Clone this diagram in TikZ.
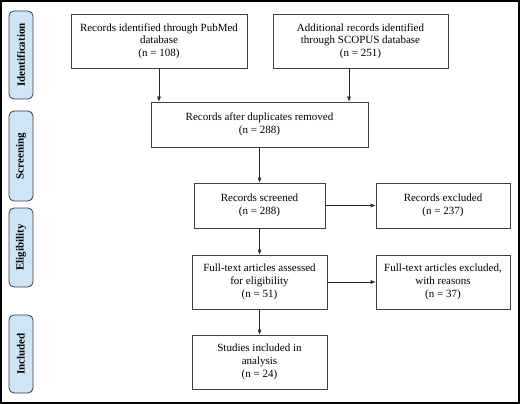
\documentclass[tikz,border=0pt]{standalone}
\usepackage{fontspec}
\setmainfont{Liberation Serif}
\usetikzlibrary{arrows.meta}
\definecolor{phasefill}{RGB}{206,229,247}
\definecolor{phasedraw}{RGB}{60,60,70}
\tikzset{
  box/.style={draw=black!75, line width=0.6pt, fill=white, align=center, font=\fontsize{11}{12.7}\selectfont, inner sep=0pt},
  phase/.style={draw=phasedraw, line width=0.8pt, fill=phasefill, rounded corners=5pt},
  phasetext/.style={rotate=90, font=\fontsize{11}{12}\selectfont\bfseries},
  arr/.style={-{Latex[length=5pt,width=4pt]}, line width=0.6pt, black!85},
}
\begin{document}
\begin{tikzpicture}[x=1pt,y=-1pt]
\useasboundingbox (0,0) rectangle (520,404);
\draw[line width=2pt] (1,1) rectangle (519,403);
% phases
\draw[phase] (9,11) rectangle (33,99);
\node[phasetext] (pid) at (21,55) {Identification};
\draw[phase] (9,111) rectangle (33,201);
\node[phasetext] (psc) at (21,156) {Screening};
\draw[phase] (9,208) rectangle (33,287);
\node[phasetext] (pel) at (21,247.5) {Eligibility};
\draw[phase] (9,315) rectangle (33,393);
\node[phasetext] (pin) at (21,354) {Included};
% boxes
\node[box, minimum width=176pt, minimum height=54pt] (pub) at (159,41) {Records identified through PubMed\\database\\(n = 108)};
\node[box, minimum width=175pt, minimum height=54pt] (sco) at (360.5,41) {Additional records identified\\through SCOPUS database\\(n = 251)};
\node[box, minimum width=217pt, minimum height=45pt] (dup) at (259.5,124.5) {Records after duplicates removed\\(n = 288)};
\node[box, minimum width=131pt, minimum height=45pt] (scr) at (259.5,205.5) {Records screened\\(n = 288)};
\node[box, minimum width=134pt, minimum height=45pt] (exc) at (443,205.5) {Records excluded\\(n = 237)};
\node[box, minimum width=135pt, minimum height=54pt] (ful) at (259.5,282) {Full-text articles assessed\\for eligibility\\(n = 51)};
\node[box, minimum width=134pt, minimum height=54pt] (fex) at (443,282) {Full-text articles excluded,\\with reasons\\(n = 37)};
\node[box, minimum width=135pt, minimum height=54pt] (stu) at (259.5,362) {Studies included in\\analysis\\(n = 24)};
% arrows
\draw[arr] (pub.south) -- (pub.south |- dup.north);
\draw[arr] (sco.south -| 349,0) -- (349,0 |- dup.north);
\draw[arr] (dup.south -| scr.north) -- (scr.north);
\draw[arr] (scr.east) -- (exc.west);
\draw[arr] (scr.south) -- (ful.north);
\draw[arr] (ful.east) -- (fex.west);
\draw[arr] (ful.south) -- (stu.north);
\end{tikzpicture}
\end{document}
